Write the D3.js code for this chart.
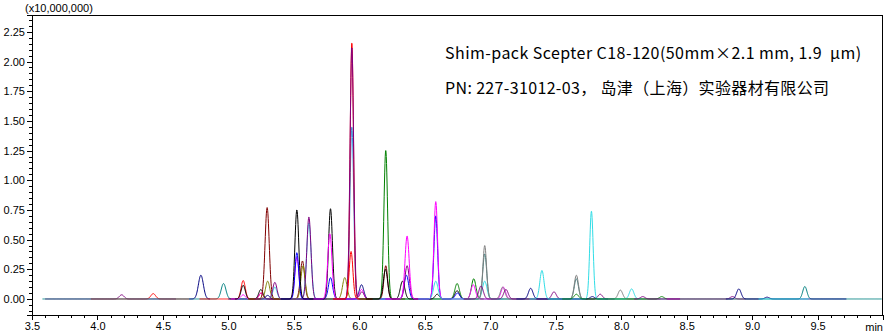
<!DOCTYPE html>
<html>
<head>
<meta charset="utf-8">
<script src="https://cdn.jsdelivr.net/npm/d3@7/dist/d3.min.js"></script>
<style>
  html, body { margin: 0; padding: 0; background: #fff; }
  svg { display: block; }
</style>
</head>
<body>
<svg id="chart" width="895" height="335"></svg>
<script>
// ---------------- DATA ----------------
const xMajorTicks = [3.5, 4.0, 4.5, 5.0, 5.5, 6.0, 6.5, 7.0, 7.5, 8.0, 8.5, 9.0, 9.5];
const yMajorTicks = [0.00, 0.25, 0.50, 0.75, 1.00, 1.25, 1.50, 1.75, 2.00, 2.25];
const yUnitLabel = "(x10,000,000)";
const xUnitLabel = "min";
const noteLines = [
  "Shim-pack Scepter C18-120(50mm\u00D72.1 mm, 1.9\u00A0\u00A0\u03BCm)",
  "PN: 227-31012-03\uFF0C 岛津\uFF08上海\uFF09实验器材有限公司"
];

// traces (MRM channels): colour and acquisition window (min), in drawing order
const traceColor = [
  "#800080", "#ff0000", "#008080", "#000080", "#ff0000", "#000080", "#ff00ff", "#000000",
  "#800000", "#808000", "#30dde6", "#800080", "#0000ff", "#000000", "#ff00ff", "#3c8dd6",
  "#ff0000", "#800080", "#ff0000", "#800000", "#008000", "#000000", "#800080", "#0000ff",
  "#ff00ff", "#30dde6", "#3f7f80", "#808080", "#800080", "#000080", "#30dde6", "#008000",
  "#ff00ff", "#800080", "#808080", "#000080", "#30dde6"
];
const traceStart = [
  3.60, 3.95, 3.58, 4.70, 4.78, 5.00, 5.02, 5.05,
  5.15, 5.15, 5.25, 5.20, 5.40, 5.40, 5.65, 5.80,
  5.80, 5.80, 5.80, 6.05, 6.00, 6.05, 6.20, 6.45,
  6.20, 6.45, 6.80, 6.80, 6.80, 7.20, 7.30, 7.55,
  8.35, 8.10, 8.45, 8.80, 9.05
];
const traceEnd = [
  4.60, 4.70, 9.99, 4.86, 5.60, 6.10, 5.65, 5.40,
  5.70, 5.95, 5.70, 5.75, 6.45, 5.90, 6.10, 6.05,
  6.10, 6.10, 6.10, 6.35, 6.95, 6.80, 6.55, 6.85,
  7.20, 7.10, 7.80, 8.30, 7.95, 7.90, 8.15, 8.45,
  8.45, 8.95, 9.05, 9.72, 9.43
];

// peaks: trace index, retention time (min), height (x10,000,000), width sigma (min)
const peakTrace = [
  0, 1, 2, 2, 3, 4, 4, 5, 5, 6, 6, 6, 7, 7,
  8, 8, 9, 9, 9, 10, 10, 11, 11, 12, 12, 12, 13, 13,
  14, 14, 15, 17, 17, 16, 18, 19, 20, 20, 20, 21, 21, 21, 21,
  22, 23, 23, 24, 24, 24, 24, 25, 25, 26, 26, 27, 27, 27, 27,
  28, 28, 28, 28, 29, 29, 30, 30, 30, 31, 31, 33, 33, 35, 35
];
const peakTime = [
  4.185, 4.426, 4.963, 9.403, 4.790, 5.113, 5.250, 5.300, 6.017, 5.113, 5.250, 5.523, 5.113, 5.248,
  5.296, 5.566, 5.300, 5.570, 5.889, 5.355, 5.615, 5.355, 5.615, 5.523, 5.780, 6.360, 5.523, 5.780,
  5.775, 6.017, 5.943, 5.943, 6.020, 5.943, 5.937, 6.202, 6.202, 6.747, 6.874, 6.200, 6.330, 6.595, 6.747,
  6.365, 6.584, 6.750, 6.365, 6.584, 6.870, 7.100, 6.584, 6.958, 6.958, 7.658, 6.958, 7.095, 7.658, 7.994,
  6.930, 7.120, 7.487, 7.840, 7.309, 7.780, 7.395, 7.773, 8.080, 7.658, 8.310, 8.165, 8.850, 8.899, 9.115
];
const peakHeight = [
  0.035, 0.045, 0.130, 0.105, 0.200, 0.155, 0.050, 0.030, 0.120, 0.035, 0.050, 0.350, 0.115, 0.080,
  0.770, 0.320, 0.150, 0.280, 0.180, 0.100, 0.640, 0.140, 0.690, 0.390, 0.180, 0.200, 0.750, 0.760,
  0.550, 0.080, 1.450, 2.120, 0.060, 2.160, 0.400, 0.280, 1.250, 0.130, 0.170, 0.250, 0.150, 0.040, 0.070,
  0.280, 0.700, 0.050, 0.530, 0.820, 0.120, 0.100, 0.150, 0.150, 0.380, 0.170, 0.450, 0.100, 0.200, 0.075,
  0.110, 0.080, 0.060, 0.040, 0.090, 0.020, 0.240, 0.740, 0.085, 0.040, 0.020, 0.020, 0.020, 0.085, 0.015
];
const peakSigma = [
  0.018, 0.018, 0.018, 0.016, 0.019, 0.016, 0.016, 0.016, 0.017, 0.016, 0.016, 0.016, 0.016, 0.016,
  0.016, 0.016, 0.016, 0.016, 0.017, 0.016, 0.017, 0.016, 0.016, 0.014, 0.016, 0.017, 0.015, 0.015,
  0.016, 0.016, 0.014, 0.0138, 0.016, 0.013, 0.014, 0.014, 0.014, 0.017, 0.017, 0.016, 0.017, 0.016, 0.017,
  0.017, 0.014, 0.017, 0.016, 0.014, 0.017, 0.017, 0.017, 0.017, 0.015, 0.016, 0.014, 0.017, 0.016, 0.017,
  0.017, 0.017, 0.017, 0.017, 0.017, 0.017, 0.016, 0.013, 0.017, 0.017, 0.017, 0.017, 0.017, 0.017, 0.017
];

// ---------------- CHART ----------------
const svg = d3.select("#chart");
const mLeft = 32, mRight = 883, mTop = 15, mBottom = 315;

const x = d3.scaleLinear().domain([3.5, 10.0]).range([mLeft, mRight]);
const y = d3.scaleLinear().domain([-0.135, 2.392]).range([mBottom, mTop]);

const axisFont = "'Liberation Sans', Arial, sans-serif";

// build each trace from its peaks
const step = 0.002;
const traces = traceColor.map((c, i) => {
  const pk = [];
  peakTrace.forEach((t, j) => { if (t === i) pk.push(j); });
  const pts = [];
  const n = Math.round((traceEnd[i] - traceStart[i]) / step);
  for (let k = 0; k <= n; k++) {
    const t = traceStart[i] + k * step;
    let v = 0;
    pk.forEach(j => {
      const d = (t - peakTime[j]) / peakSigma[j];
      v += peakHeight[j] * Math.exp(-0.5 * d * d);
    });
    pts.push([t, v]);
  }
  return { color: c, pts };
});

const line = d3.line().x(d => x(d[0])).y(d => y(d[1]));

const plot = svg.append("g");
plot.selectAll("path.trace")
  .data(traces)
  .join("path")
  .attr("class", "trace")
  .attr("fill", "none")
  .attr("stroke", d => d.color)
  .attr("stroke-width", 1)
  .attr("d", d => line(d.pts));

// frame (top and right)
svg.append("line").attr("x1", mLeft).attr("x2", mRight).attr("y1", mTop + 0.5).attr("y2", mTop + 0.5)
  .attr("stroke", "#000").attr("shape-rendering", "crispEdges");
svg.append("line").attr("x1", mRight - 0.5).attr("x2", mRight - 0.5).attr("y1", mTop).attr("y2", mBottom)
  .attr("stroke", "#000").attr("shape-rendering", "crispEdges");

// x axis
const xMinor = d3.range(35, 101).map(v => v / 10);
const xAxisMinor = d3.axisBottom(x).tickValues(xMinor).tickSize(3).tickFormat("");
const gxm = svg.append("g").attr("transform", `translate(0,${mBottom})`).call(xAxisMinor);
const xAxis = d3.axisBottom(x).tickValues(xMajorTicks).tickSize(5).tickPadding(2).tickFormat(d3.format(".1f"));
const gx = svg.append("g").attr("transform", `translate(0,${mBottom})`).call(xAxis);
gx.selectAll("text").attr("font-family", axisFont).attr("font-size", 11).attr("fill", "#000");
[gx, gxm].forEach(g => {
  g.selectAll("line").attr("stroke", "#000").attr("shape-rendering", "crispEdges");
  g.select(".domain").attr("stroke", "#000").attr("shape-rendering", "crispEdges");
});
svg.append("text").attr("x", mRight).attr("y", mBottom + 16)
  .attr("text-anchor", "end").attr("font-family", axisFont).attr("font-size", 11)
  .text(xUnitLabel);

// y axis
const yMinor = d3.range(-2, 48).map(v => v * 0.05);
const yAxisMinor = d3.axisLeft(y).tickValues(yMinor).tickSize(3).tickFormat("");
const gym = svg.append("g").attr("transform", `translate(${mLeft},0)`).call(yAxisMinor);
const yAxis = d3.axisLeft(y).tickValues(yMajorTicks).tickSize(5).tickPadding(2).tickFormat(d3.format(".2f"));
const gy = svg.append("g").attr("transform", `translate(${mLeft},0)`).call(yAxis);
gy.selectAll("text").attr("font-family", axisFont).attr("font-size", 11).attr("fill", "#000");
[gy, gym].forEach(g => {
  g.selectAll("line").attr("stroke", "#000").attr("shape-rendering", "crispEdges");
  g.select(".domain").attr("stroke", "#000").attr("shape-rendering", "crispEdges");
});
svg.append("text").attr("x", 25).attr("y", 12)
  .attr("font-family", axisFont).attr("font-size", 11)
  .text(yUnitLabel);

// annotation
const note = svg.append("g").attr("font-family", "'Noto Sans CJK SC', 'Noto Sans', sans-serif")
  .attr("font-size", 16).attr("fill", "#000");
note.selectAll("text").data(noteLines).join("text")
  .attr("x", 445).attr("y", (d, i) => 59 + i * 35)
  .attr("letter-spacing", (d, i) => i === 0 ? 0.45 : 0.35)
  .text(d => d);
</script>
</body>
</html>
